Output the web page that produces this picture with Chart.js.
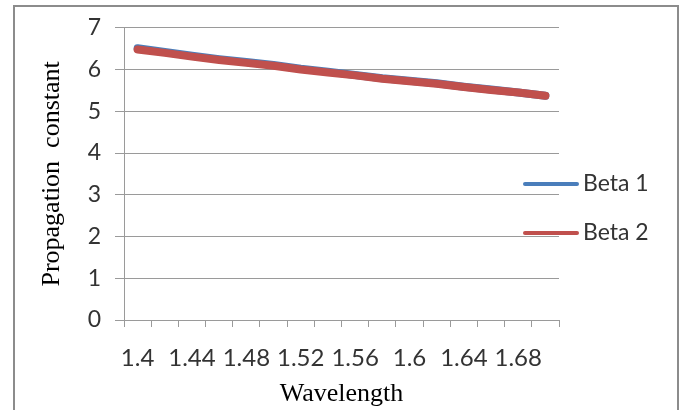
<!DOCTYPE html>
<html>
<head>
<meta charset="utf-8">
<script src="https://cdn.jsdelivr.net/npm/chart.js@4.4.1/dist/chart.umd.min.js"></script>
<style>
  html, body { margin: 0; padding: 0; background: #fff; }
  #wrap { position: relative; width: 680px; height: 410px; overflow: hidden; }
  #frame { position: absolute; left: 13px; top: 5px; width: 662px; height: 420px; border: 2px solid #8c8c8c; }
  canvas { position: absolute; left: 0; top: 0; }
</style>
</head>
<body>
<div id="wrap">
  <div id="frame"></div>
  <canvas id="c" width="680" height="410"></canvas>
</div>
<script>
// wavelength categories (only every other one gets a label)
const wavelengths = ["1.4", "1.42", "1.44", "1.46", "1.48", "1.5", "1.52", "1.54",
  "1.56", "1.58", "1.6", "1.62", "1.64", "1.66", "1.68", "1.7"];
const beta1 = [6.51, 6.42, 6.33, 6.25, 6.18, 6.11, 6.02, 5.95, 5.87, 5.79, 5.73, 5.67, 5.59, 5.52, 5.45, 5.37];
const beta2 = [6.48, 6.40, 6.31, 6.23, 6.16, 6.09, 6.00, 5.93, 5.86, 5.78, 5.72, 5.66, 5.58, 5.51, 5.45, 5.37];
const yTicks = [0, 1, 2, 3, 4, 5, 6, 7];

const BLUE = "#4a7ebb";
const RED = "#c0504d";
const GRID = "#9a9a9a";
const TEXT = "#333333";

// legend drawn by hand, Excel style: short thick line + label
const sideLegend = {
  id: "sideLegend",
  afterDraw(chart) {
    const { ctx } = chart;
    const items = [
      { label: "Beta 1", color: BLUE, y: 184 },
      { label: "Beta 2", color: RED, y: 233 },
    ];
    ctx.save();
    ctx.lineCap = "round";
    ctx.font = "23px Lato, sans-serif";
    ctx.textBaseline = "middle";
    ctx.fillStyle = TEXT;
    for (const it of items) {
      ctx.strokeStyle = it.color;
      ctx.lineWidth = 4;
      ctx.beginPath();
      ctx.moveTo(525, it.y);
      ctx.lineTo(577, it.y);
      ctx.stroke();
      ctx.fillText(it.label, 583, it.y);
    }
    ctx.restore();
  },
};

new Chart(document.getElementById("c"), {
  type: "line",
  data: {
    labels: wavelengths,
    datasets: [
      { label: "Beta 1", data: beta1, borderColor: BLUE, borderWidth: 8, pointRadius: 0,
        tension: 0, borderCapStyle: "round", borderJoinStyle: "round", order: 2 },
      { label: "Beta 2", data: beta2, borderColor: RED, borderWidth: 8, pointRadius: 0,
        tension: 0, borderCapStyle: "round", borderJoinStyle: "round", order: 1 },
    ],
  },
  options: {
    responsive: false,
    animation: false,
    layout: { padding: { left: 0, top: 25, right: 121, bottom: 0 } },
    plugins: { legend: { display: false }, tooltip: { enabled: false } },
    scales: {
      x: {
        type: "category",
        offset: true,
        grid: { offset: true, drawOnChartArea: false, tickLength: 7, color: GRID },
        border: { color: GRID },
        ticks: {
          autoSkip: false, maxRotation: 0, padding: 17, color: TEXT,
          font: { family: "Lato", size: 24 },
          callback: (v, i) => (i % 2 === 0 ? wavelengths[i] : ""),
        },
        title: { display: true, text: "Wavelength", color: "#000",
          font: { family: "Liberation Serif", size: 26 }, padding: { top: 0, bottom: 0 } },
        afterFit: (s) => { s.height = 90; },
      },
      y: {
        min: 0, max: 7,
        afterBuildTicks: (s) => { s.ticks = yTicks.map((v) => ({ value: v })); },
        grid: { color: GRID, tickLength: 9 },
        border: { color: GRID },
        ticks: { padding: 14, color: TEXT, font: { family: "Lato", size: 23 } },
        title: { display: true, text: "Propagation  constant", color: "#000",
          font: { family: "Liberation Serif", size: 26 }, padding: { top: 37, bottom: 0 } },
        afterFit: (s) => { s.width = 124; },
      },
    },
  },
  plugins: [sideLegend],
});
</script>
</body>
</html>
